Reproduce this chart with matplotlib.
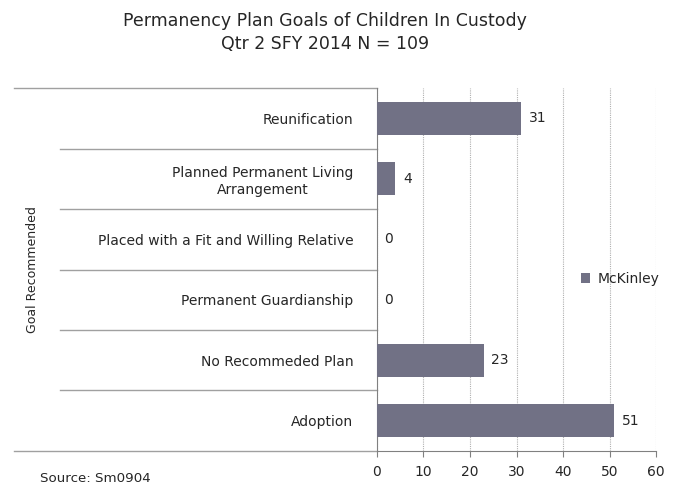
import matplotlib.pyplot as plt

# data, top to bottom as shown
goals = ['Reunification', 'Planned Permanent Living\nArrangement',
         'Placed with a Fit and Willing Relative', 'Permanent Guardianship',
         'No Recommeded Plan', 'Adoption']
counts = [31, 4, 0, 0, 23, 51]
series_name = 'McKinley'
x_ticks = [0, 10, 20, 30, 40, 50, 60]

bar_color = '#717185'
line_color = '#a0a0a0'
text_color = '#262626'

plt.rcParams['font.family'] = ['DejaVu Sans']

fig = plt.figure(figsize=(6.73, 4.87), dpi=100)
ax = fig.add_axes([0.560, 0.074, 0.415, 0.745])

ypos = list(range(len(goals)))[::-1]
ax.barh(ypos, counts, height=0.55, color=bar_color, label=series_name, zorder=3)

for y, v in zip(ypos, counts):
    ax.text(v + 1.6, y, str(v), va='center', ha='left', fontsize=10, color=text_color)

ax.set_xlim(0, 60)
ax.set_ylim(-0.5, len(goals) - 0.5)
ax.set_xticks(x_ticks)
ax.tick_params(axis='x', length=4, color='#808080', labelsize=10, labelcolor=text_color, pad=6)
ax.set_yticks(ypos)
ax.set_yticklabels(goals, fontsize=10, color=text_color, ha='right', multialignment='center')
ax.tick_params(axis='y', length=0, pad=17)

ax.xaxis.grid(True, linestyle=(0, (1, 1)), color='#b0b0b0', linewidth=0.8, zorder=0)
for s in ['top', 'right']:
    ax.spines[s].set_visible(False)
ax.spines['left'].set_color('#808080')
ax.spines['bottom'].set_color('#808080')

# category separator lines extending to the left of the axis
trans = ax.get_yaxis_transform()
for b in range(len(goals) + 1):
    yb = b - 0.5
    x0 = -1.301 if b in (0, len(goals)) else -1.136
    ax.plot([x0, 0], [yb, yb], transform=trans, color=line_color, linewidth=1,
            clip_on=False, zorder=2)

fig.text(0.049, 0.446, 'Goal Recommended', rotation=90, va='center', ha='center',
         fontsize=9, color=text_color)

fig.text(0.483, 0.957, 'Permanency Plan Goals of Children In Custody', ha='center',
         va='center', fontsize=12.5, color=text_color)
fig.text(0.483, 0.909, 'Qtr 2 SFY 2014 N = 109', ha='center', va='center',
         fontsize=12.5, color=text_color)

fig.text(0.059, 0.018, 'Source: Sm0904', ha='left', va='center', fontsize=9.6,
         color=text_color)

ax.legend(loc='center left', bbox_to_anchor=(0.685, 0.475), frameon=False,
          fontsize=10, handlelength=0.7, handleheight=0.7, handletextpad=0.5,
          labelcolor=text_color)

fig.savefig('out.png', dpi=100)
